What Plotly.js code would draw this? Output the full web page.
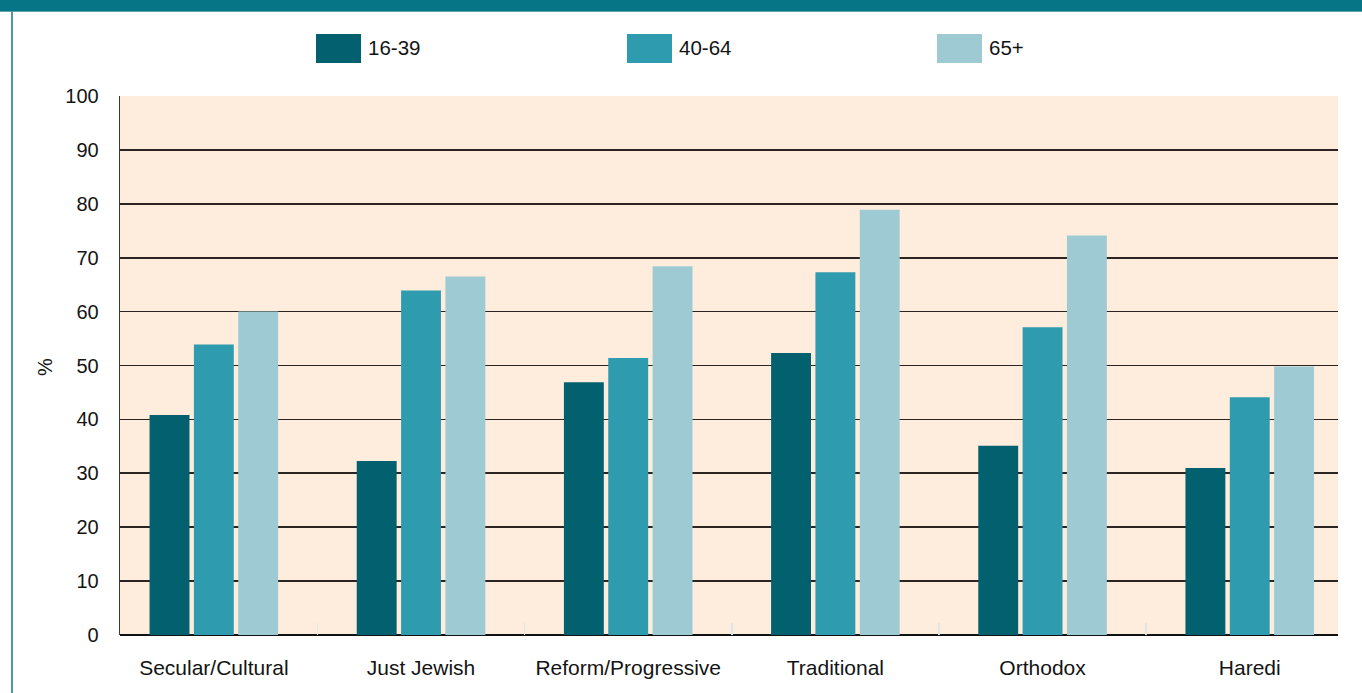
<!DOCTYPE html>
<html>
<head>
<meta charset="utf-8">
<script src="https://cdn.plot.ly/plotly-3.0.1.min.js"></script>
<style>
  html, body { margin: 0; padding: 0; background: #ffffff; }
  #wrap { position: relative; width: 1362px; height: 693px; overflow: hidden; }
  #chart { position: absolute; left: 0; top: 0; width: 1362px; height: 693px; }
  #band { position: absolute; left: 0; top: 0; width: 1362px; height: 11px; background: #067585; border-bottom: 1px solid #5ea3ad; z-index: 5; }
  #rule { position: absolute; left: 11px; top: 11px; width: 2px; height: 682px; background: #4f99a4; z-index: 5; }
</style>
</head>
<body>
<div id="wrap">
  <div id="chart"></div>
  <div id="band"></div>
  <div id="rule"></div>
</div>
<script>
// Denominations along the x axis
const categories = ['Secular/Cultural', 'Just Jewish', 'Reform/Progressive', 'Traditional', 'Orthodox', 'Haredi'];

// Age groups (series names)
const seriesNames = ['16-39', '40-64', '65+'];

// Percentage per denomination for each age group
const age16to39 = [40.8, 32.3, 46.9, 52.3, 35.1, 31.0];
const age40to64 = [53.9, 63.9, 51.4, 67.3, 57.1, 44.1];
const age65plus = [60.0, 66.5, 68.4, 78.9, 74.1, 49.8];

// Y axis ticks
const yTicks = [0, 10, 20, 30, 40, 50, 60, 70, 80, 90, 100];

const seriesValues = [age16to39, age40to64, age65plus];
const seriesColors = ['#02606f', '#2e9cae', '#9ecbd3'];

const W = 1362, H = 693;
const M = { l: 120, r: 24, t: 96, b: 58 };
const plotW = W - M.l - M.r;
const plotH = H - M.t - M.b;
const pxX = px => (px - M.l) / plotW;
const pxY = py => (H - M.b - py) / plotH;

const FONT = 'Liberation Sans, Arial, Helvetica, sans-serif';

const traces = seriesNames.map((name, i) => ({
  type: 'bar',
  name: name,
  x: categories,
  y: seriesValues[i],
  marker: { color: seriesColors[i], line: { width: 0 } },
  hoverinfo: 'x+y+name'
}));

// Legend drawn as large swatches with labels across the top
const legendStarts = [316, 627, 937];
const shapes = [];
const annotations = [];
seriesNames.forEach((name, i) => {
  const x0 = legendStarts[i];
  shapes.push({
    type: 'rect', xref: 'paper', yref: 'paper',
    x0: pxX(x0), x1: pxX(x0 + 45), y0: pxY(63), y1: pxY(34),
    fillcolor: seriesColors[i], line: { width: 0 }, layer: 'above'
  });
  annotations.push({
    xref: 'paper', yref: 'paper', x: pxX(x0 + 50), y: pxY(47),
    xanchor: 'left', yanchor: 'middle', showarrow: false,
    text: name, font: { family: FONT, size: 20.5, color: '#141414' }
  });
});

// Y axis title
annotations.push({
  xref: 'paper', yref: 'paper', x: pxX(45), y: pxY(367),
  xanchor: 'center', yanchor: 'middle', showarrow: false, textangle: -90,
  text: '%', font: { family: FONT, size: 20, color: '#141414' }
});

const layout = {
  width: W, height: H,
  margin: M,
  paper_bgcolor: 'rgba(0,0,0,0)',
  plot_bgcolor: '#feecdc',
  showlegend: false,
  barmode: 'group',
  bargap: 0.358,
  bargroupgap: 0.1,
  font: { family: FONT, size: 20, color: '#141414' },
  xaxis: {
    type: 'category',
    range: [-0.453, 5.426],
    showgrid: false,
    zeroline: false,
    showline: false,
    ticks: 'inside',
    tickson: 'boundaries',
    ticklen: 12,
    tickwidth: 1.5,
    tickcolor: '#dde6e8',
    ticklabelstandoff: 18,
    tickfont: { family: FONT, size: 21, color: '#141414' },
    fixedrange: true
  },
  yaxis: {
    range: [0, 100],
    tickvals: yTicks,
    ticktext: yTicks.map(String),
    showgrid: true,
    gridcolor: '#2b2420',
    gridwidth: 1.6,
    zeroline: true,
    zerolinecolor: '#111111',
    zerolinewidth: 1.8,
    showline: true,
    linecolor: '#3a3a3a',
    linewidth: 1.3,
    ticks: '',
    ticklabelstandoff: 16,
    tickfont: { family: FONT, size: 20, color: '#141414' },
    fixedrange: true
  },
  shapes: shapes,
  annotations: annotations
};

Plotly.newPlot('chart', traces, layout, { displayModeBar: false, staticPlot: true });
</script>
</body>
</html>
